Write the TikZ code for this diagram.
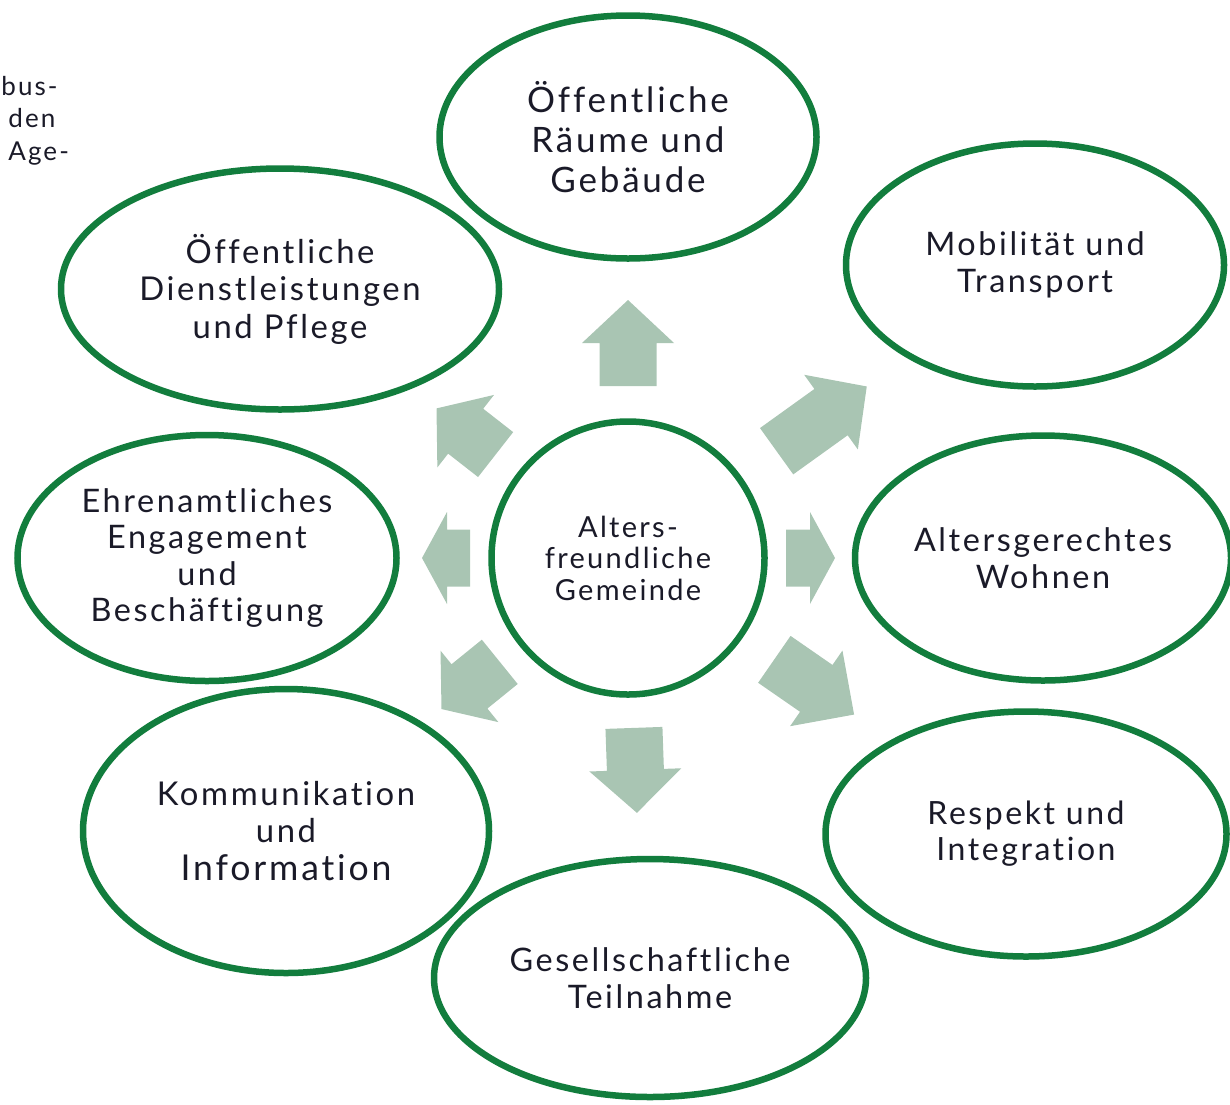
\documentclass[tikz,border=0pt]{standalone}
\usepackage{fontspec}
\setmainfont{Lato}[LetterSpace=8, Ligatures={NoCommon}]
\usetikzlibrary{shapes.geometric}
\definecolor{egreen}{HTML}{127D3D}
\definecolor{afill}{HTML}{A9C5B3}
\definecolor{txt}{HTML}{1A1A28}
\newcommand{\blockarr}[4]{%
  \fill[afill, shift={(c.center)}, rotate=#1]
    (#2,-28.5) -- ({#3-#4},-28.5) -- ({#3-#4},-46) -- (#3,0) --
    ({#3-#4},46) -- ({#3-#4},28.5) -- (#2,28.5) -- cycle;}
\begin{document}
\begin{tikzpicture}[x=0.5pt,y=-0.5pt,
  ell/.style={draw=egreen, line width=3.25pt, ellipse, align=center, inner sep=0pt, text=txt},
  frag/.style={text=txt, inner sep=0pt, font=\fontsize{13}{15}\selectfont}]
\useasboundingbox (0,0) rectangle (1230,1104);

% fragments of cut-off text
\node[frag, anchor=base west] (f1) at (1,95) {bus-};
\node[frag, anchor=base west] (f2) at (8,127) {den};
\node[frag, anchor=base west] (f3) at (8,160) {Age-};

% centre
\node[ell, minimum width=136.5pt, minimum height=136.5pt, font=\fontsize{14.5}{15.75}\selectfont] (c) at (628,558) {Alters-\\freundliche\\Gemeinde};

% outer ellipses
\node[ell, minimum width=188.5pt, minimum height=121.5pt, font=\fontsize{17.5}{20}\selectfont] (e1) at (628,137) {Öffentliche\\Räume und\\Gebäude};
\node[ell, minimum width=219pt, minimum height=120.5pt, font=\fontsize{16.4}{18.75}\selectfont] (e2) at (280,289) {Öffentliche\\Dienstleistungen\\und Pflege};
\node[ell, minimum width=189pt, minimum height=121.5pt, font=\fontsize{16.2}{18.5}\selectfont] (e3) at (1035,265) {Mobilität und\\Transport};
\node[ell, minimum width=189.5pt, minimum height=123pt, font=\fontsize{16.2}{18.3}\selectfont] (e4) at (207,558) {Ehrenamtliches\\Engagement\\und\\Beschäftigung};
\node[ell, minimum width=188pt, minimum height=122.5pt, font=\fontsize{16.2}{18.5}\selectfont] (e5) at (1043,558) {Altersgerechtes\\Wohnen};
\node[ell, minimum width=203pt, minimum height=142pt, font=\fontsize{16.4}{18.75}\selectfont] (e6) at (286,831) {Kommunikation\\und\\{\fontsize{17.8}{18.75}\selectfont Information}};
\node[ell, minimum width=200.5pt, minimum height=122.5pt, font=\fontsize{16}{18}\selectfont] (e7) at (1026,834) {Respekt und\\Integration};
\node[ell, minimum width=216pt, minimum height=119pt, font=\fontsize{16.2}{18.5}\selectfont] (e8) at (650,978) {Gesellschaftliche\\Teilnahme};

% block arrows from the centre towards each ellipse
\blockarr{90}{172}{258}{43}
\blockarr{35.7}{183}{294}{44}
\blockarr{0}{158}{207}{25}
\blockarr{-34.7}{178}{275}{46}
\blockarr{-88}{170}{255}{43}
\blockarr{-141}{165}{240}{36}
\blockarr{180}{158}{206}{25}
\blockarr{142}{168}{243}{37}
\end{tikzpicture}
\end{document}
